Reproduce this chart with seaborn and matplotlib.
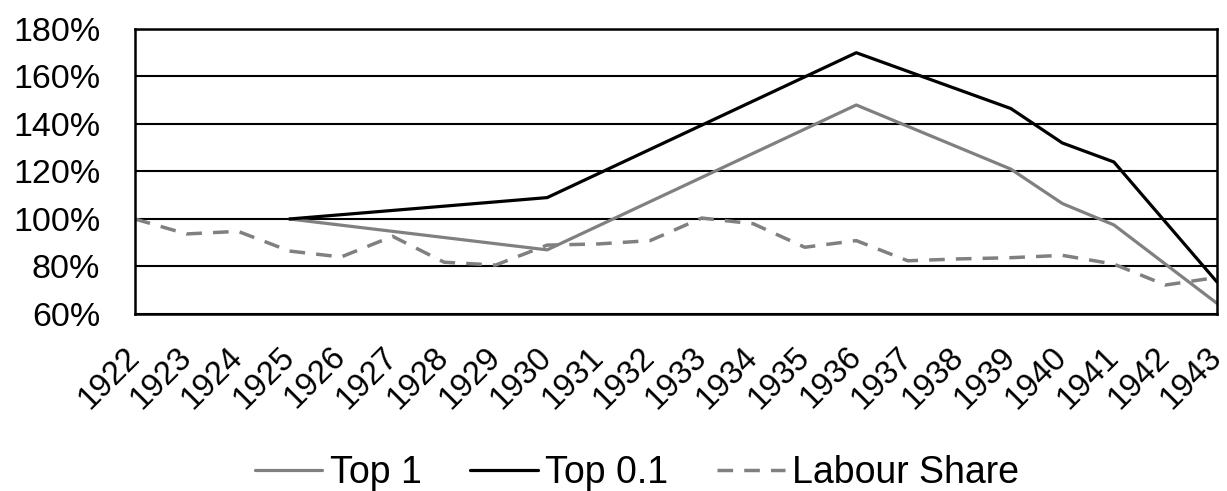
import numpy as np
import pandas as pd
import matplotlib
matplotlib.use("Agg")
import matplotlib.pyplot as plt
from matplotlib.ticker import FuncFormatter
import seaborn as sns

# Index values (% of base year); None where a series has no observation
years = list(range(1922, 1944))
top1 = [None, None, None, 100, None, None, None, None, 87, None, None, None,
        None, None, 148, None, None, 121, 106.5, 97.5, None, 64.5]
top01 = [None, None, None, 100, None, None, None, None, 109, None, None, None,
         None, None, 170, None, None, 146.5, 132, 124, None, 73.5]
labour = [100, 93.7, 94.8, 86.5, 84, 92.7, 81.8, 80.6, 89, 89.5, 90.9, 100.4,
          98, 88.1, 90.9, 82.4, 83.2, 83.7, 84.7, 81, 72.2, 75.4]
series_names = ["Top 1", "Top 0.1", "Labour Share"]

sns.set_style("white")
plt.rcParams["font.family"] = ["Liberation Sans", "DejaVu Sans"]
plt.rcParams["text.color"] = "black"
plt.rcParams["xtick.color"] = "black"
plt.rcParams["ytick.color"] = "black"

fig = plt.figure(figsize=(12.27, 4.91), dpi=100)
ax = fig.add_axes([0.110, 0.3605, 0.8818, 0.5805])

grey = "#808080"
styles = {
    "Top 1": dict(color=grey, linewidth=2.3),
    "Top 0.1": dict(color="black", linewidth=2.3),
    "Labour Share": dict(color=grey, linewidth=2.5, linestyle=(0, (4.5, 3.2)),
                         dash_capstyle="butt"),
}

for name, vals in zip(series_names, [top1, top01, labour]):
    df = pd.DataFrame({"year": years, "value": vals}).dropna()
    sns.lineplot(data=df, x="year", y="value", ax=ax, label=name,
                 estimator=None, sort=True, **styles[name])

ax.set_xlim(1922, 1943)
ax.set_ylim(60, 180)
ax.set_yticks(np.arange(60, 181, 20))
ax.yaxis.set_major_formatter(FuncFormatter(lambda v, p: f"{int(round(v))}%"))
ax.set_xticks(years)
ax.set_xticklabels([str(y) for y in years], rotation=45, ha="right",
                   rotation_mode="anchor", va="center")

ax.tick_params(axis="x", labelsize=23.5, length=0, pad=27.5, colors="black")
ax.tick_params(axis="y", labelsize=24.5, length=0, pad=25, colors="black")
ax.set_xlabel("")
ax.set_ylabel("")
ax.grid(axis="y", color="black", linewidth=1.5)
ax.grid(axis="x", visible=False)
for sp in ax.spines.values():
    sp.set_visible(True)
    sp.set_color("black")
    sp.set_linewidth(1.8)

ax.get_legend().remove()
handles, labels = ax.get_legend_handles_labels()
fig.legend(handles, labels, loc="center", bbox_to_anchor=(0.519, 0.037),
           ncol=3, frameon=False, fontsize=27, handlelength=1.8,
           handletextpad=0.2, columnspacing=1.3)

fig.savefig("out.png", dpi=100)
